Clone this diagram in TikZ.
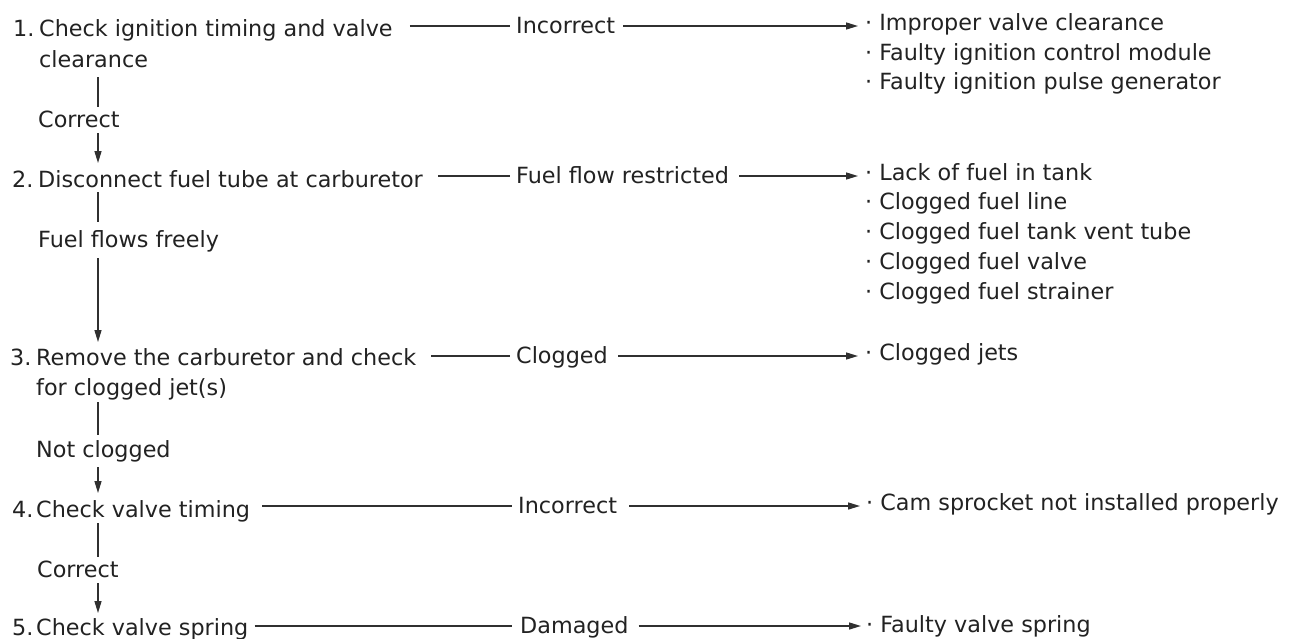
\documentclass[tikz,border=0pt]{standalone}
\usepackage{fontspec}
\setmainfont{DejaVu Sans}
\usetikzlibrary{arrows.meta,calc}
\definecolor{ink}{HTML}{222222}
\definecolor{wire}{HTML}{303030}
\begin{document}
\begin{tikzpicture}[x=1pt,y=-1pt,
  txt/.style={anchor=base west,inner sep=0pt,text=ink,font=\fontsize{22.3}{26}\selectfont},
  conn/.style={draw=wire,line width=1.4pt},
  arr/.style={conn,-{Triangle[length=12pt,width=7pt]}}]
\fill[white] (0,0) rectangle (1293,638);
\useasboundingbox (0,0) rectangle (1293,638);
\coordinate (vx) at (98,0);
% Row 1
\node[txt] (n1) at (13,36) {1.};
\node[txt] (s1a) at (39,36) {Check ignition timing and valve};
\node[txt] (s1b) at (39,67) {clearance};
\node[txt] (l1) at (516,33) {Incorrect};
\node[txt] (b1a) at (865,30) {· Improper valve clearance};
\node[txt] (b1b) at (865,60) {· Faulty ignition control module};
\node[txt] (b1c) at (865,89) {· Faulty ignition pulse generator};
\node[txt] (c1) at (38,127) {Correct};
% Row 2
\node[txt] (n2) at (12,187) {2.};
\node[txt] (s2) at (38,187) {Disconnect fuel tube at carburetor};
\node[txt] (l2) at (516,183) {Fuel flow restricted};
\node[txt] (b2a) at (865,180) {· Lack of fuel in tank};
\node[txt] (b2b) at (865,209) {· Clogged fuel line};
\node[txt] (b2c) at (865,239) {· Clogged fuel tank vent tube};
\node[txt] (b2d) at (865,269) {· Clogged fuel valve};
\node[txt] (b2e) at (865,299) {· Clogged fuel strainer};
\node[txt] (c2) at (38,247) {Fuel flows freely};
% Row 3
\node[txt] (n3) at (10,365) {3.};
\node[txt] (s3a) at (36,365) {Remove the carburetor and check};
\node[txt] (s3b) at (36,395) {for clogged jet(s)};
\node[txt] (l3) at (516,363) {Clogged};
\node[txt] (b3) at (865,360) {· Clogged jets};
\node[txt] (c3) at (36,457) {Not clogged};
% Row 4
\node[txt] (n4) at (12,517) {4.};
\node[txt] (s4) at (36,517) {Check valve timing};
\node[txt] (l4) at (518,513) {Incorrect};
\node[txt] (b4) at (866,510) {· Cam sprocket not installed properly};
\node[txt] (c4) at (37,577) {Correct};
% Row 5
\node[txt] (n5) at (12,635) {5.};
\node[txt] (s5) at (36,635) {Check valve spring};
\node[txt] (l5) at (520,633) {Damaged};
\node[txt] (b5) at (866,632) {· Faulty valve spring};
% Horizontal connectors (at mid cap height of the middle label)
\draw[conn] ($(s1a.east |- l1.base west)+(17,-7)$) -- ($(l1.base west)+(-6,-7)$);
\draw[arr] ($(l1.base east)+(8,-7)$) -- ($(l1.base east -| b1a.west)+(-7,-7)$);
\draw[conn] ($(s2.east |- l2.base west)+(15,-7)$) -- ($(l2.base west)+(-6,-7)$);
\draw[arr] ($(l2.base east)+(10,-7)$) -- ($(l2.base east -| b2a.west)+(-7,-7)$);
\draw[conn] ($(s3a.east |- l3.base west)+(15,-7)$) -- ($(l3.base west)+(-6,-7)$);
\draw[arr] ($(l3.base east)+(10,-7)$) -- ($(l3.base east -| b3.west)+(-7,-7)$);
\draw[conn] ($(s4.east |- l4.base west)+(12,-7)$) -- ($(l4.base west)+(-6,-7)$);
\draw[arr] ($(l4.base east)+(12,-7)$) -- ($(l4.base east -| b4.west)+(-6,-7)$);
\draw[conn] ($(s5.east |- l5.base west)+(6,-7)$) -- ($(l5.base west)+(-8,-7)$);
\draw[arr] ($(l5.base east)+(10,-7)$) -- ($(l5.base east -| b5.west)+(-5,-7)$);
% Vertical connectors
\draw[conn] ($(s1b.base -| vx)+(0,10)$) -- ($(c1.base -| vx)+(0,-20)$);
\draw[arr] ($(c1.base -| vx)+(0,6)$) -- ($(s2.base -| vx)+(0,-24)$);
\draw[conn] ($(s2.base -| vx)+(0,5)$) -- ($(c2.base -| vx)+(0,-25)$);
\draw[arr] ($(c2.base -| vx)+(0,11)$) -- ($(s3a.base -| vx)+(0,-23)$);
\draw[conn] ($(s3b.base -| vx)+(0,7)$) -- ($(c3.base -| vx)+(0,-22)$);
\draw[arr] ($(c3.base -| vx)+(0,10)$) -- ($(s4.base -| vx)+(0,-24)$);
\draw[conn] ($(s4.base -| vx)+(0,6)$) -- ($(c4.base -| vx)+(0,-20)$);
\draw[arr] ($(c4.base -| vx)+(0,6)$) -- ($(s5.base -| vx)+(0,-22)$);
\end{tikzpicture}
\end{document}
